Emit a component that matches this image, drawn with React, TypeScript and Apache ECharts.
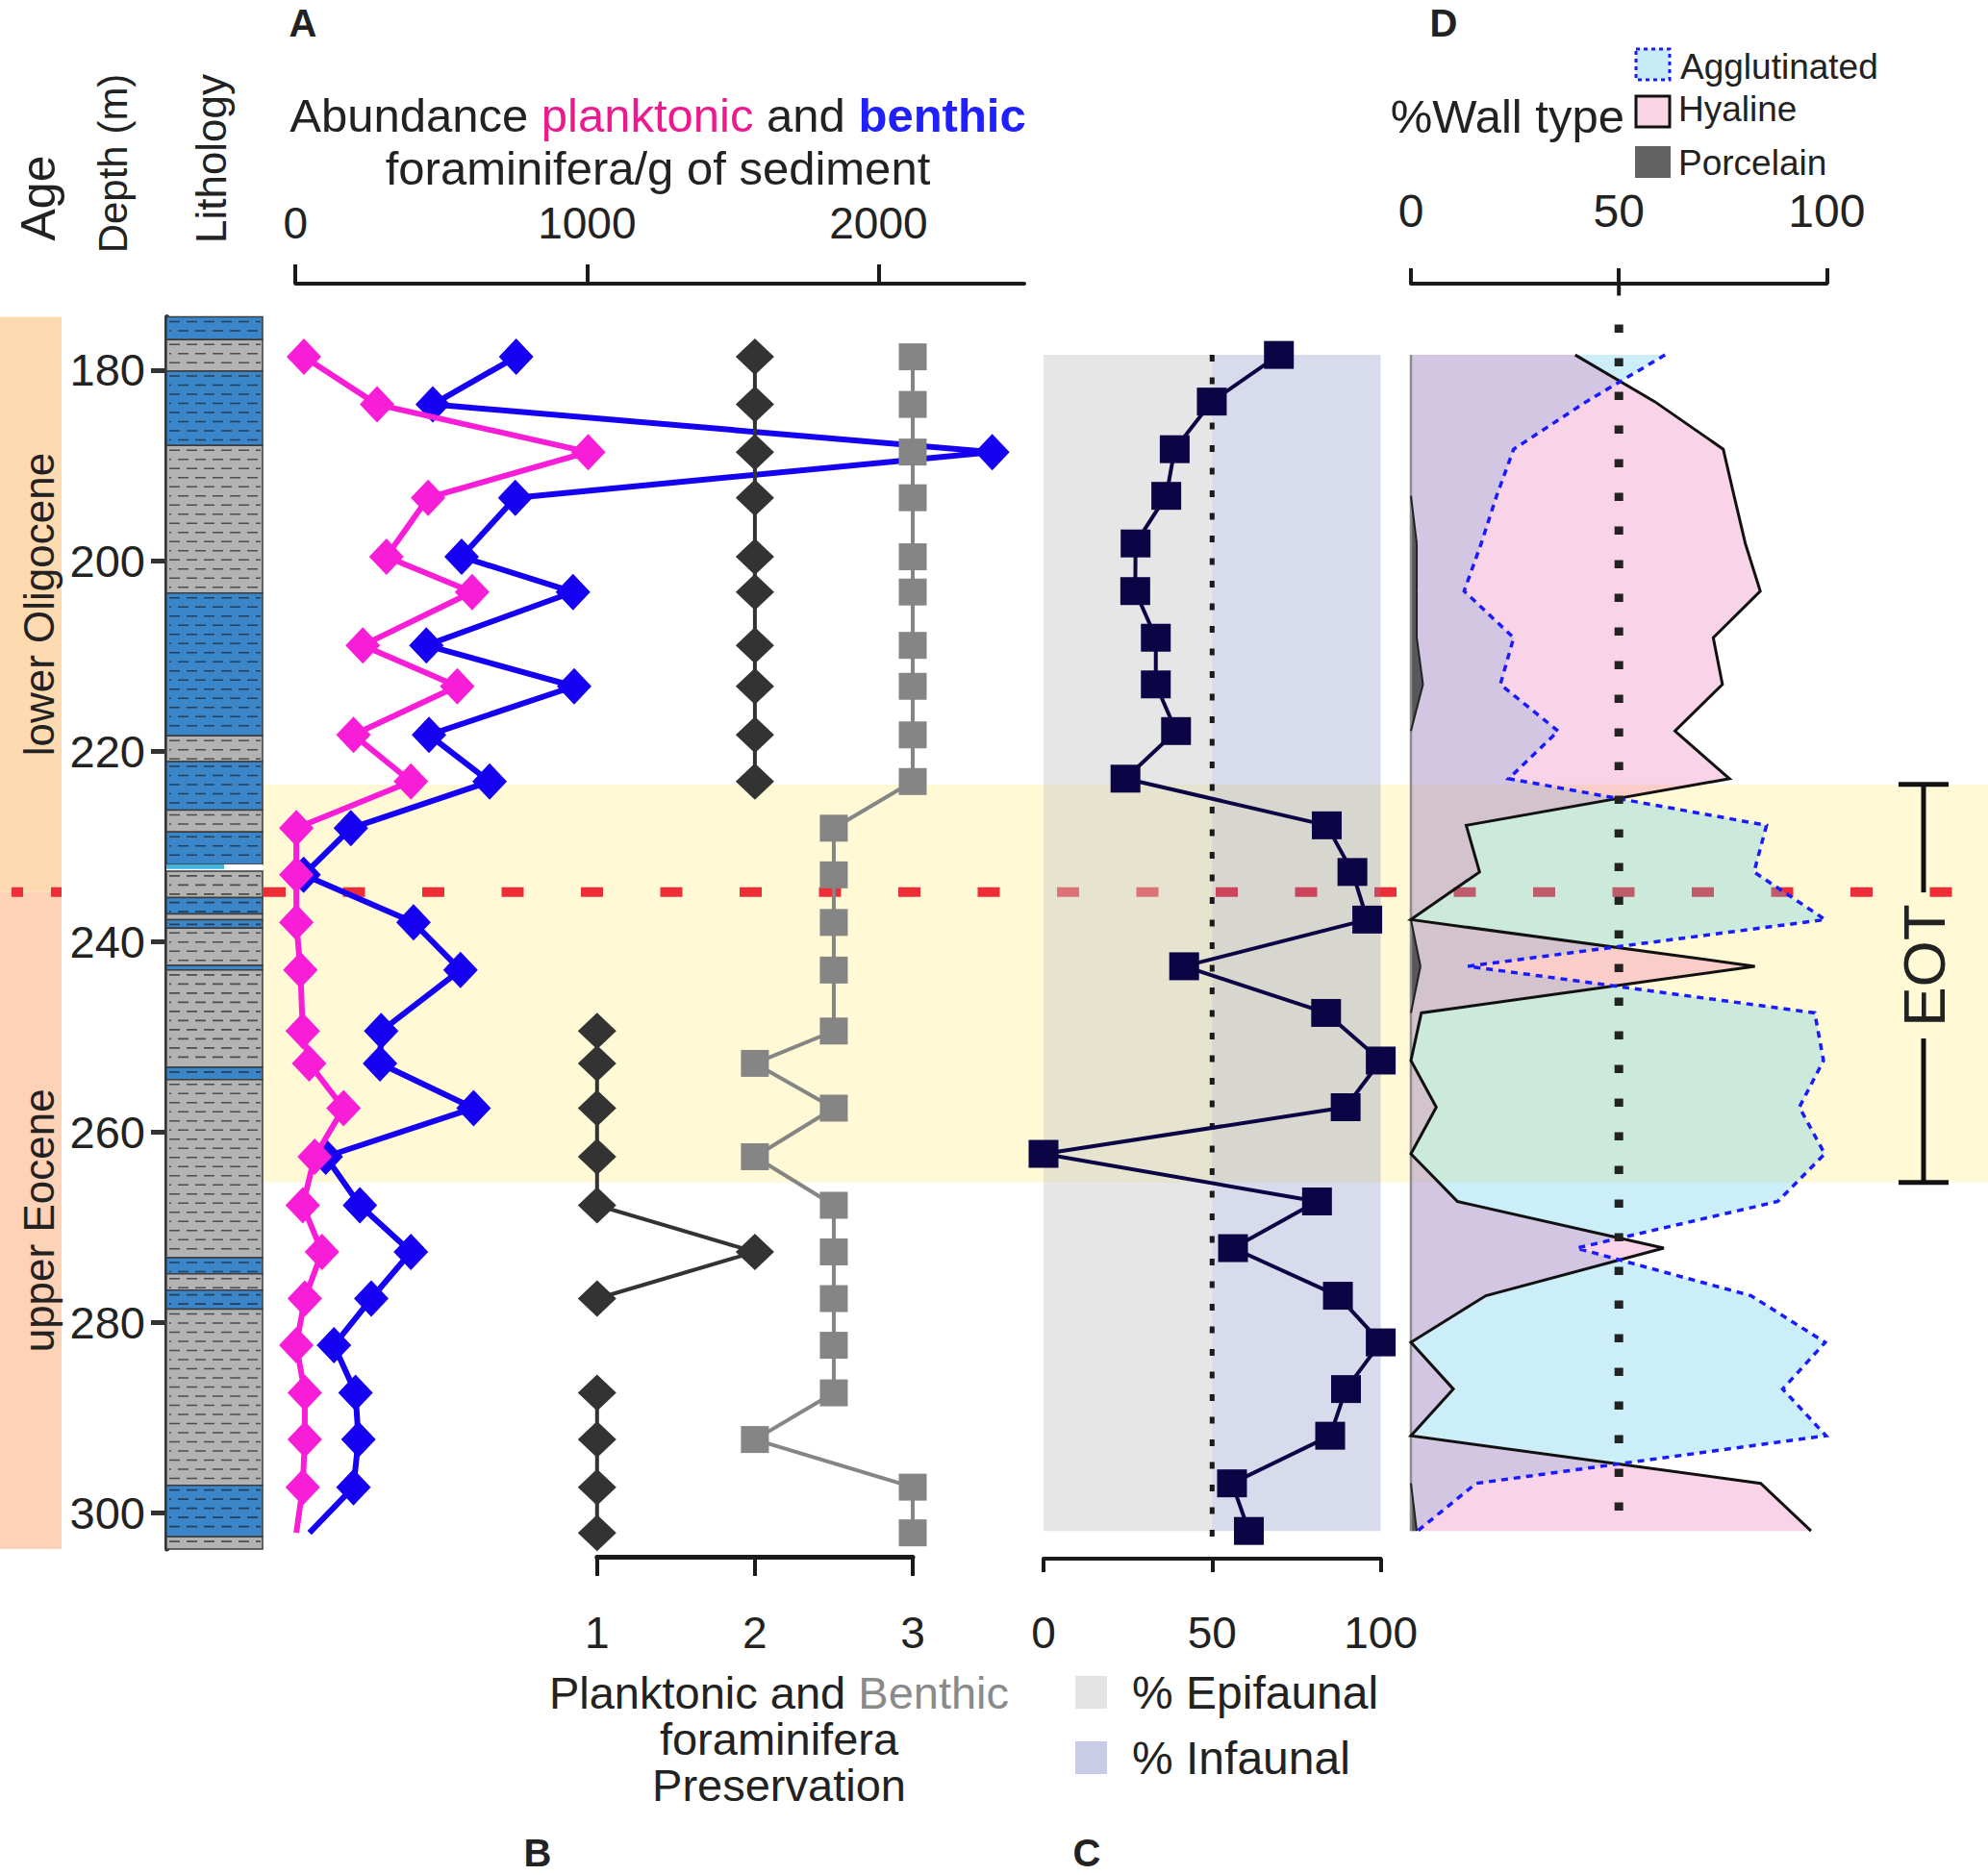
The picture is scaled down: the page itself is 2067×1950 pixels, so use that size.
import React, { useEffect, useRef } from "react";
import * as echarts from "echarts";

const FONT = "'Liberation Sans', Arial, Helvetica, sans-serif";

// ---------- depth scale ----------
const depthTicks = [180, 200, 220, 240, 260, 280, 300];
const DEPTH_MIN = 174.4;
const DEPTH_MAX = 303.8;

// ---------- age / events ----------
const ageNames = ["lower Oligocene", "upper Eocene"];
const ageTop = [174.4, 234.8];
const ageBase = [234.8, 303.8];
const eoBoundaryDepth = [234.8];
const eotInterval = [223.5, 265.3];

// ---------- lithology ----------
const lithologyTop = [174.4, 176.8, 180.1, 187.9, 203.4, 218.4, 221.1, 226.2, 228.5, 231.9, 232.6, 235.4, 237.1, 237.7, 238.6, 242.5, 243.0, 253.2, 254.5, 273.2, 274.9, 276.6, 278.6, 297.1, 302.5];
const lithologyBase = [176.8, 180.1, 187.9, 203.4, 218.4, 221.1, 226.2, 228.5, 231.9, 232.6, 235.4, 237.1, 237.7, 238.6, 242.5, 243.0, 253.2, 254.5, 273.2, 274.9, 276.6, 278.6, 297.1, 302.5, 303.8];
const lithologyKind = ["marl", "shale", "marl", "shale", "marl", "shale", "marl", "shale", "marl", "gap", "shale", "marl", "shale", "marl", "shale", "marl", "shale", "marl", "shale", "marl", "shale", "marl", "shale", "marl", "shale"];

// ---------- panels A & B ----------
const sampleDepth = [178.6, 183.6, 188.6, 193.4, 199.6, 203.3, 208.9, 213.2, 218.3, 223.2, 228.1, 233.0, 238.0, 243.0, 249.4, 252.8, 257.5, 262.6, 267.7, 272.6, 277.5, 282.4, 287.4, 292.3, 297.3, 302.1];
const planktonicAbundance = [29, 280, 1004, 455, 312, 606, 231, 555, 199, 396, 3, 3, 3, 17, 25, 47, 165, 66, 25, 91, 32, 3, 32, 32, 25, 3];
const benthicAbundance = [757, 471, 2390, 754, 570, 952, 449, 956, 458, 666, 190, 28, 405, 566, 294, 290, 611, 104, 221, 396, 260, 132, 206, 216, 199, 48];
const abundanceTicks = [0, 1000, 2000];
const planktonicPreservation: (number | null)[] = [2, 2, 2, 2, 2, 2, 2, 2, 2, 2, null, null, null, null, 1, 1, 1, 1, 1, 2, 1, null, 1, 1, 1, 1];
const benthicPreservation = [3, 3, 3, 3, 3, 3, 3, 3, 3, 3, 2.5, 2.5, 2.5, 2.5, 2.5, 2, 2.5, 2, 2.5, 2.5, 2.5, 2.5, 2.5, 2, 3, 3];

// ---------- panels C & D ----------
const assemblageDepth = [178.4, 183.3, 188.3, 193.2, 198.2, 203.2, 208.1, 213.0, 217.9, 222.9, 227.8, 232.7, 237.7, 242.6, 247.5, 252.5, 257.4, 262.3, 267.3, 272.2, 277.2, 282.1, 287.0, 291.9, 296.9, 301.9];
const infaunalPct = [69.8, 49.9, 38.9, 36.4, 27.3, 27.2, 33.3, 33.3, 39.3, 24.3, 84.0, 91.6, 96.0, 41.7, 83.8, 100, 89.6, 0, 81.1, 56.2, 87.3, 100, 89.7, 85.0, 55.9, 60.9];
const hyalinePct = [39.5, 58.6, 75.1, 77.7, 80.4, 84.0, 72.7, 74.9, 63.5, 76.6, 13.3, 16.5, 0, 82.7, 2.5, 0, 6.1, 0, 11.2, 60.8, 18.0, 0, 10.2, 0, 84.1, 96.2];
const agglutinatedPct = [61.1, 42.2, 24.7, 20.6, 16.9, 12.8, 24.7, 21.5, 35.4, 23.5, 85.5, 82.5, 99.6, 13.7, 97.1, 99.2, 93.4, 99.5, 88.2, 39.8, 81.8, 99.6, 89.4, 99.8, 15.7, 1.6];
const porcelainPct = [0, 0, 0, 0, 1.4, 1.4, 1.4, 2.9, 0, 0, 0, 0, 0, 2.3, 0, 0, 0, 0, 0, 0, 0, 0, 0, 0, 0, 1.4];
const wallRefRange = [175.2, 300.6];

const GRID_TOP = 329.5;
const GRID_H = 1281.5;

function txt(text: string, x: number, y: number, size: number, o: any = {}) {
  return {
    type: "text",
    x,
    y,
    rotation: o.rotation || 0,
    silent: true,
    z: 20,
    style: {
      text,
      fontSize: size,
      fontFamily: FONT,
      fontWeight: o.weight || "normal",
      fill: o.fill || "#222",
      align: o.align || "center",
      verticalAlign: "middle",
      lineHeight: o.lineHeight,
      rich: o.rich,
    },
  };
}

function buildOption(): any {
  const gridDefs = [
    { left: 0, width: 64 }, // 0 age
    { left: 173, width: 100 }, // 1 lithology
    { left: 307.2, width: 757.8 }, // 2 A
    { left: 620.8, width: 328.2 }, // 3 B
    { left: 1085, width: 350.6 }, // 4 C
    { left: 1467, width: 432.4 }, // 5 D
    { left: 273, width: 1794 }, // 6 band
  ];
  const grid = gridDefs.map((g) => ({ ...g, top: GRID_TOP, height: GRID_H }));

  const yAxis = gridDefs.map((_, i) => ({
    gridIndex: i,
    type: "value",
    inverse: true,
    min: DEPTH_MIN,
    max: DEPTH_MAX,
    show: i === 1,
    position: "left",
    axisLine: { show: true, onZero: false, lineStyle: { color: "#333", width: 5 } },
    axisTick: { show: true, customValues: depthTicks, length: 16, lineStyle: { color: "#333", width: 5 } },
    axisLabel: { customValues: depthTicks, fontSize: 47, margin: 22, color: "#222", fontFamily: FONT },
    splitLine: { show: false },
  }));

  const hidden = (gi: number) => ({ gridIndex: gi, type: "value", min: 0, max: 1, show: false });
  const axisCol = "#1a1a1a";
  const plain = (v: number) => String(v);
  const xAxis: any[] = [
    hidden(0),
    hidden(1),
    {
      gridIndex: 2, type: "value", position: "top", min: 0, max: 2500, offset: 34.5,
      axisLine: { show: true, onZero: false, lineStyle: { color: axisCol, width: 4 } },
      axisTick: { show: true, customValues: abundanceTicks, length: 20, lineStyle: { color: axisCol, width: 4 } },
      axisLabel: { customValues: abundanceTicks, formatter: plain, fontSize: 46, margin: 40, color: "#222", fontFamily: FONT },
      splitLine: { show: false },
    },
    {
      gridIndex: 3, type: "value", position: "bottom", min: 1, max: 3, interval: 1, offset: 8,
      axisLine: { show: true, onZero: false, lineStyle: { color: axisCol, width: 5 } },
      axisTick: { show: true, length: 20, lineStyle: { color: axisCol, width: 4 } },
      axisLabel: { formatter: plain, fontSize: 46, margin: 56, color: "#222", fontFamily: FONT },
      splitLine: { show: false },
    },
    {
      gridIndex: 4, type: "value", position: "bottom", min: 0, max: 100, interval: 50, offset: 10,
      axisLine: { show: true, onZero: false, lineStyle: { color: axisCol, width: 4 } },
      axisTick: { show: true, length: 14, lineStyle: { color: axisCol, width: 4 } },
      axisLabel: { formatter: plain, fontSize: 46, margin: 54, color: "#222", fontFamily: FONT },
      splitLine: { show: false },
    },
    {
      gridIndex: 5, type: "value", position: "top", min: 0, max: 100, interval: 50, offset: 34.5,
      axisLine: { show: true, onZero: false, lineStyle: { color: axisCol, width: 4 } },
      axisTick: { show: true, length: 16, lineStyle: { color: axisCol, width: 4 } },
      axisLabel: { formatter: plain, fontSize: 48, margin: 52, color: "#222", fontFamily: FONT },
      splitLine: { show: false },
    },
    hidden(6),
  ];

  const ax = (i: number) => ({ xAxisIndex: i, yAxisIndex: i });

  const series: any[] = [];

  // EOT yellow band
  series.push({
    type: "custom", ...ax(6), z: 0, silent: true, clip: false,
    data: [[eotInterval[0], eotInterval[1]]],
    renderItem: (params: any, api: any) => {
      const cs = params.coordSys;
      const yT = api.coord([0, api.value(0)])[1];
      const yB = api.coord([0, api.value(1)])[1];
      return { type: "rect", shape: { x: cs.x, y: yT, width: cs.width, height: yB - yT }, style: { fill: "#FFF9D6" } };
    },
  });

  // E/O boundary red dashed line (plot part)
  series.push({
    type: "custom", ...ax(6), z: 1, silent: true, clip: false,
    data: [[eoBoundaryDepth[0]]],
    renderItem: (params: any, api: any) => {
      const cs = params.coordSys;
      const y = api.coord([0, api.value(0)])[1];
      return { type: "line", shape: { x1: cs.x + 1, y1: y, x2: cs.x + cs.width, y2: y }, style: { stroke: "#EE2D36", lineWidth: 10, lineDash: [23, 59.5], fill: "none" } };
    },
  });

  // Age column
  series.push({
    type: "custom", ...ax(0), z: 2, silent: true, clip: false,
    data: ageTop.map((t, i) => [t, ageBase[i], i]),
    renderItem: (params: any, api: any) => {
      const cs = params.coordSys;
      const i = api.value(2);
      const yT = api.coord([0, api.value(0)])[1];
      const yB = api.coord([0, api.value(1)])[1];
      return {
        type: "group",
        children: [
          { type: "rect", shape: { x: cs.x, y: yT, width: cs.width, height: yB - yT }, style: { fill: i === 0 ? "#FDDAB0" : "#FDD2B6" } },
          { type: "text", x: cs.x + 40, y: (yT + yB) / 2, rotation: Math.PI / 2, style: { text: ageNames[i], fontSize: 44, fontFamily: FONT, fill: "#222", align: "center", verticalAlign: "middle" } },
        ],
      };
    },
  });

  // Age column red dashes
  series.push({
    type: "custom", ...ax(0), z: 3, silent: true, clip: false,
    data: [[eoBoundaryDepth[0]]],
    renderItem: (params: any, api: any) => {
      const cs = params.coordSys;
      const y = api.coord([0, api.value(0)])[1];
      return { type: "line", shape: { x1: cs.x, y1: y, x2: cs.x + cs.width, y2: y }, style: { stroke: "#EE2D36", lineWidth: 10, lineDash: [12, 29], lineDashOffset: 29, fill: "none" } };
    },
  });

  // Lithology column
  series.push({
    type: "custom", ...ax(1), z: 2, silent: true, clip: false,
    data: lithologyTop.map((t, i) => [t, lithologyBase[i], i]),
    renderItem: (params: any, api: any) => {
      const cs = params.coordSys;
      const kind = lithologyKind[api.value(2)];
      const yT = api.coord([0, api.value(0)])[1];
      const yB = api.coord([0, api.value(1)])[1];
      const x0 = cs.x;
      const w = cs.width;
      const children: any[] = [];
      if (kind === "gap") {
        children.push({ type: "rect", shape: { x: x0, y: yT, width: w, height: yB - yT }, style: { fill: "#ffffff" } });
        children.push({ type: "rect", shape: { x: x0, y: yT, width: w * 0.6, height: (yB - yT) * 0.7 }, style: { fill: "#3FB6E2" } });
        return { type: "group", children };
      }
      const fill = kind === "marl" ? "#3A86C8" : "#B3B3B3";
      children.push({ type: "rect", shape: { x: x0, y: yT, width: w, height: yB - yT }, style: { fill, stroke: "#3c3c3c", lineWidth: 1.5 } });
      let k = 0;
      for (let y = yT + 5; y < yB - 2; y += 9.5, k++) {
        children.push({
          type: "line",
          shape: { x1: x0 + 3, y1: y, x2: x0 + w - 2, y2: y },
          style: { stroke: kind === "marl" ? "#23405e" : "#4d4d4d", lineWidth: 1.6, lineDash: [11, 7], lineDashOffset: k % 2 ? 9 : 0, fill: "none" },
        });
      }
      return { type: "group", children };
    },
  });

  // Panel C background + reference line
  series.push({
    type: "custom", ...ax(4), z: 2, silent: true, clip: false,
    data: [[0]],
    renderItem: (params: any, api: any) => {
      const d0 = assemblageDepth[0];
      const d1 = assemblageDepth[assemblageDepth.length - 1];
      const pT0 = api.coord([0, d0]);
      const pT50 = api.coord([50, d0]);
      const pB100 = api.coord([100, d1]);
      const yB = pB100[1];
      return {
        type: "group",
        children: [
          { type: "rect", shape: { x: pT0[0], y: pT0[1], width: pT50[0] - pT0[0], height: yB - pT0[1] }, style: { fill: "rgba(200,200,200,0.45)" } },
          { type: "rect", shape: { x: pT50[0], y: pT0[1], width: pB100[0] - pT50[0], height: yB - pT0[1] }, style: { fill: "rgba(120,130,190,0.29)" } },
          { type: "line", shape: { x1: pT50[0], y1: pT0[1], x2: pT50[0], y2: yB + 8 }, style: { stroke: "#1a1a1a", lineWidth: 5, lineDash: [7, 16.5], fill: "none" } },
        ],
      };
    },
  });

  // Panel D areas
  series.push({
    type: "custom", ...ax(5), z: 2, silent: true, clip: false,
    data: [[0]],
    renderItem: (params: any, api: any) => {
      const cs = params.coordSys;
      const n = assemblageDepth.length;
      const pt = (v: number, d: number) => api.coord([v, d]);
      const curve = (vals: number[]) => assemblageDepth.map((d, i) => pt(vals[i], d));
      const base = [pt(0, assemblageDepth[n - 1]), pt(0, assemblageDepth[0])];
      const aggl = curve(agglutinatedPct);
      const hyal = curve(hyalinePct);
      const porc = curve(porcelainPct);
      const children: any[] = [
        { type: "polygon", shape: { points: aggl.concat(base) }, style: { fill: "rgba(85,198,232,0.3)" } },
        { type: "polygon", shape: { points: hyal.concat(base) }, style: { fill: "rgba(232,83,165,0.255)" } },
        { type: "polygon", shape: { points: porc.concat(base) }, style: { fill: "rgba(55,55,55,0.78)" } },
        { type: "line", shape: { x1: base[1][0], y1: base[1][1], x2: base[0][0], y2: base[0][1] }, style: { stroke: "#8c8c8c", lineWidth: 2.5, fill: "none" } },
      ];
      for (let i = 0; i < n - 1; i++) {
        if (porcelainPct[i] > 0 || porcelainPct[i + 1] > 0) {
          children.push({ type: "line", shape: { x1: porc[i][0], y1: porc[i][1], x2: porc[i + 1][0], y2: porc[i + 1][1] }, style: { stroke: "#222", lineWidth: 2, fill: "none" } });
        }
      }
      children.push({ type: "polyline", shape: { points: hyal }, style: { stroke: "#111", lineWidth: 3, fill: "none" } });
      children.push({ type: "polyline", shape: { points: aggl }, style: { stroke: "#1a1aff", lineWidth: 3.5, lineDash: [7, 6], fill: "none" } });
      const t50 = pt(50, wallRefRange[0]);
      const b50 = pt(50, wallRefRange[1]);
      children.push({ type: "line", shape: { x1: t50[0], y1: t50[1], x2: b50[0], y2: b50[1] }, style: { stroke: "#222", lineWidth: 9, lineDash: [8.5, 26.5], fill: "none" } });
      // downward part of the 50 tick on the top axis
      children.push({ type: "line", shape: { x1: t50[0], y1: cs.y - 36, x2: t50[0], y2: cs.y - 22 }, style: { stroke: "#1a1a1a", lineWidth: 4, fill: "none" } });
      return { type: "group", children };
    },
  });

  const lineBase = { type: "line", clip: false, silent: true, animation: false, connectNulls: false };

  // Panel A
  series.push({
    ...lineBase, ...ax(2), z: 4,
    symbol: "diamond", symbolSize: [36, 38],
    lineStyle: { color: "#1500F2", width: 6 },
    itemStyle: { color: "#1500F2" },
    data: sampleDepth.map((d, i) => (i === sampleDepth.length - 1 ? { value: [benthicAbundance[i], d], symbol: "none" } : [benthicAbundance[i], d])),
  });
  series.push({
    ...lineBase, ...ax(2), z: 5,
    symbol: "diamond", symbolSize: [36, 38],
    lineStyle: { color: "#F81ED8", width: 6 },
    itemStyle: { color: "#F81ED8" },
    data: sampleDepth.map((d, i) => (i === sampleDepth.length - 1 ? { value: [planktonicAbundance[i], d], symbol: "none" } : [planktonicAbundance[i], d])),
  });

  // Panel B
  series.push({
    ...lineBase, ...ax(3), z: 4,
    symbol: "diamond", symbolSize: [40, 38],
    lineStyle: { color: "#333333", width: 4 },
    itemStyle: { color: "#333333" },
    data: sampleDepth.map((d, i) => [planktonicPreservation[i] === null ? "-" : planktonicPreservation[i], d]),
  });
  series.push({
    ...lineBase, ...ax(3), z: 4,
    symbol: "rect", symbolSize: [29, 28],
    lineStyle: { color: "#858585", width: 4 },
    itemStyle: { color: "#858585" },
    data: sampleDepth.map((d, i) => [benthicPreservation[i], d]),
  });

  // Panel C
  series.push({
    ...lineBase, ...ax(4), z: 4,
    symbol: "rect", symbolSize: [31, 29],
    lineStyle: { color: "#0B0545", width: 4 },
    itemStyle: { color: "#0B0545" },
    data: assemblageDepth.map((d, i) => [infaunalPct[i], d]),
  });

  // EOT bracket
  series.push({
    type: "custom", ...ax(6), z: 6, silent: true, clip: false,
    data: [[eotInterval[0], eotInterval[1]]],
    renderItem: (params: any, api: any) => {
      const cs = params.coordSys;
      const yT = api.coord([0, api.value(0)])[1];
      const yB = api.coord([0, api.value(1)])[1];
      const cx = cs.x + cs.width - 67;
      const ty = yT + (yB - yT) * 0.455;
      const st = { stroke: "#111", lineWidth: 5, fill: "none" };
      return {
        type: "group",
        children: [
          { type: "line", shape: { x1: cx - 26, y1: yT, x2: cx + 26, y2: yT }, style: st },
          { type: "line", shape: { x1: cx - 26, y1: yB, x2: cx + 26, y2: yB }, style: st },
          { type: "line", shape: { x1: cx, y1: yT, x2: cx, y2: ty - 76 }, style: st },
          { type: "line", shape: { x1: cx, y1: ty + 76, x2: cx, y2: yB }, style: st },
          { type: "text", x: cx, y: ty, rotation: Math.PI / 2, style: { text: "EOT", fontSize: 62, fontFamily: FONT, fill: "#222", align: "center", verticalAlign: "middle" } },
        ],
      };
    },
  });

  const graphic: any[] = [
    txt("A", 315, 24, 40, { weight: "bold" }),
    txt("D", 1501, 24, 40, { weight: "bold" }),
    txt("B", 559, 1927, 40, { weight: "bold" }),
    txt("C", 1130, 1927, 40, { weight: "bold" }),
    txt("Age", 40, 206, 50, { rotation: Math.PI / 2 }),
    txt("Depth (m)", 117, 170, 42, { rotation: Math.PI / 2 }),
    txt("Lithology", 219, 165, 44, { rotation: Math.PI / 2 }),
    txt("{n|Abundance }{p|planktonic}{n| and }{b|benthic}", 684, 120, 49, {
      rich: {
        n: { fontSize: 49, fontFamily: FONT, fill: "#222" },
        p: { fontSize: 49, fontFamily: FONT, fill: "#EC1A8E" },
        b: { fontSize: 49, fontFamily: FONT, fill: "#2020FF", fontWeight: "bold" },
      },
    }),
    txt("foraminifera/g of sediment", 684, 175, 49),
    txt("%Wall type", 1689, 121, 49, { align: "right" }),
    { type: "rect", shape: { x: 1701, y: 51, width: 35, height: 32 }, style: { fill: "#C8EBF8", stroke: "#1a1aff", lineWidth: 3, lineDash: [4, 4] }, silent: true, z: 20 },
    { type: "rect", shape: { x: 1701, y: 100, width: 35, height: 32 }, style: { fill: "#F9D5E5", stroke: "#111", lineWidth: 3 }, silent: true, z: 20 },
    { type: "rect", shape: { x: 1700, y: 152, width: 37, height: 33 }, style: { fill: "#626262" }, silent: true, z: 20 },
    txt("Agglutinated", 1747, 69, 37, { align: "left" }),
    txt("Hyaline", 1745, 113, 37, { align: "left" }),
    txt("Porcelain", 1745, 169, 37, { align: "left" }),
    txt("{n|Planktonic and }{g|Benthic}\n{n|foraminifera}\n{n|Preservation}", 810, 1808, 47, {
      lineHeight: 48,
      rich: {
        n: { fontSize: 47, fontFamily: FONT, fill: "#222", lineHeight: 48 },
        g: { fontSize: 47, fontFamily: FONT, fill: "#8a8a8a", lineHeight: 48 },
      },
    }),
    { type: "rect", shape: { x: 1118, y: 1743, width: 33, height: 34 }, style: { fill: "#E3E3E3" }, silent: true, z: 20 },
    { type: "rect", shape: { x: 1118, y: 1811, width: 33, height: 34 }, style: { fill: "#C9CCE6" }, silent: true, z: 20 },
    txt("% Epifaunal", 1177, 1760, 48, { align: "left" }),
    txt("% Infaunal", 1177, 1828, 48, { align: "left" }),
  ];

  return {
    animation: false,
    backgroundColor: "#ffffff",
    textStyle: { fontFamily: FONT },
    grid,
    xAxis,
    yAxis,
    series,
    graphic,
  };
}

export default function App() {
  const ref = useRef<HTMLDivElement>(null);
  useEffect(() => {
    if (!ref.current) return;
    const chart = echarts.init(ref.current, null, { renderer: "svg", width: 2067, height: 1950 });
    chart.setOption(buildOption());
    return () => chart.dispose();
  }, []);
  return <div ref={ref} style={{ position: "absolute", left: 0, top: 0, width: 2067, height: 1950, background: "#fff" }} />;
}
